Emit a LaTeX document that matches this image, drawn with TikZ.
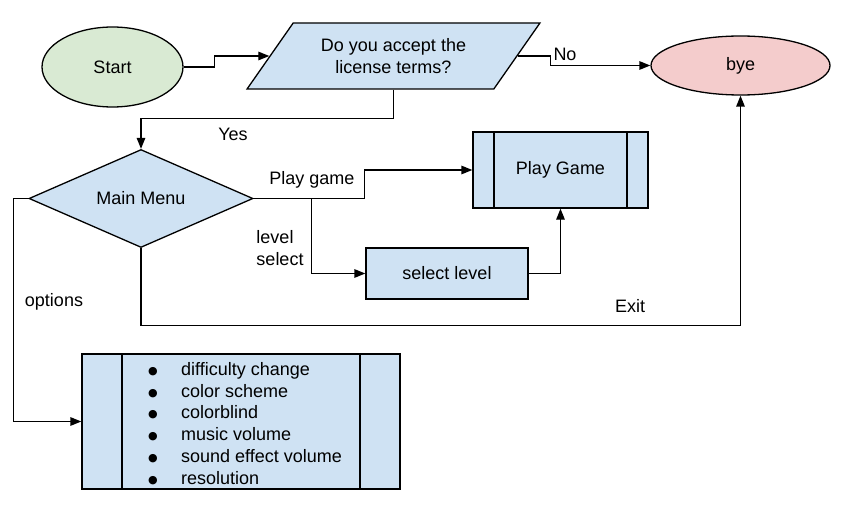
\documentclass[tikz,border=0pt]{standalone}
\usepackage{fontspec}
\setmainfont{Liberation Sans}
\newfontfamily\symfont{DejaVu Sans}
\usetikzlibrary{arrows.meta,shapes.geometric}

\definecolor{startgreen}{HTML}{D9EAD3}
\definecolor{byered}{HTML}{F4CCCC}
\definecolor{boxblue}{HTML}{CFE2F3}

% bullet of the options list
\newcommand{\optdot}{\makebox[33pt][l]{\raisebox{1pt}{\symfont\fontsize{11}{11}\selectfont ●}}}

\tikzset{
  flow/.style={draw, line width=1.3pt, font=\fontsize{18}{21.8}\selectfont},
  terminal/.style={flow, ellipse, inner sep=0pt},
  question/.style={flow, trapezium, trapezium left angle=48.7,
    trapezium right angle=131.3, trapezium stretches=true,
    fill=boxblue, align=center, inner sep=2pt},
  choice/.style={flow, diamond, aspect=2.3, fill=boxblue, inner sep=0pt},
  stepbox/.style={flow, rectangle, fill=boxblue},
  subproc/.style={stepbox,
    path picture={
      \draw[line width=1.3pt]
        ([xshift=#1]path picture bounding box.north west) --
        ([xshift=#1]path picture bounding box.south west);
      \draw[line width=1.3pt]
        ([xshift=-#1]path picture bounding box.north east) --
        ([xshift=-#1]path picture bounding box.south east);
    }},
  arr/.style={line width=1.3pt, -{Triangle[length=11pt,width=8.5pt]}},
  lbl/.style={font=\fontsize{18}{21.8}\selectfont, inner sep=0pt}
}

\begin{document}
\begin{tikzpicture}[x=1pt,y=-1pt]
  \useasboundingbox (0,0) rectangle (845,505);

  % Terminals
  \node[terminal, fill=startgreen, minimum width=141pt, minimum height=80pt]
    (start) at (112.5,67) {Start};
  \node[terminal, fill=byered, minimum width=179pt, minimum height=59pt]
    (bye) at (740.5,65.5) {bye};

  % License question
  \node[question, minimum width=293pt, minimum height=66pt]
    (accept) at (393.5,56) {Do you accept the\\license terms?};

  % Main menu
  \node[choice, minimum width=224pt, minimum height=98pt]
    (menu) at (141,198.5) {Main Menu};

  % Boxes
  \node[subproc=21pt, minimum width=175pt, minimum height=76pt]
    (play) at (560.5,170) {Play Game};
  \node[stepbox, minimum width=162pt, minimum height=51pt]
    (select) at (447,273.5) {select level};
  \node[subproc=40pt, minimum width=318pt, minimum height=135pt]
    (opts) at (241,421.5) {};
  \node[lbl, align=left] (optlist) at (245,423.5) {%
    \optdot difficulty change\\
    \optdot color scheme\\
    \optdot colorblind\\
    \optdot music volume\\
    \optdot sound effect volume\\
    \optdot resolution};

  % Draw the connectors
  \draw[arr] (start.east) -- ++(31,0) |- (accept.west);
  \draw[arr] (accept.east) -- ++(33,0) |- (bye.west);
  \draw[arr] (accept.south) -- ++(0,29) -| (menu.north);
  \draw[arr] (menu.east) -- ++(111,0) |- (play.west);
  \coordinate (split) at ([xshift=58pt]menu.east);
  \draw[arr] (split) |- (select.west);
  \draw[arr] (select.east) -| (play.south);
  \draw[arr] (menu.south) -- ++(0,77) -| (bye.south);
  \draw[arr] (menu.west) -- ++(-15,0) |- (opts.west);

  % Connector labels
  \node[lbl] (no) at (565,54) {No};
  \node[lbl] (yes) at (233,134) {Yes};
  \node[lbl] (playlbl) at (312,180) {Play game};
  \node[lbl, align=left] (levellbl) at (280,248) {level\\select};
  \node[lbl] (exit) at (630,306) {Exit};
  \node[lbl] (optlbl) at (54,302) {options};
\end{tikzpicture}
\end{document}
